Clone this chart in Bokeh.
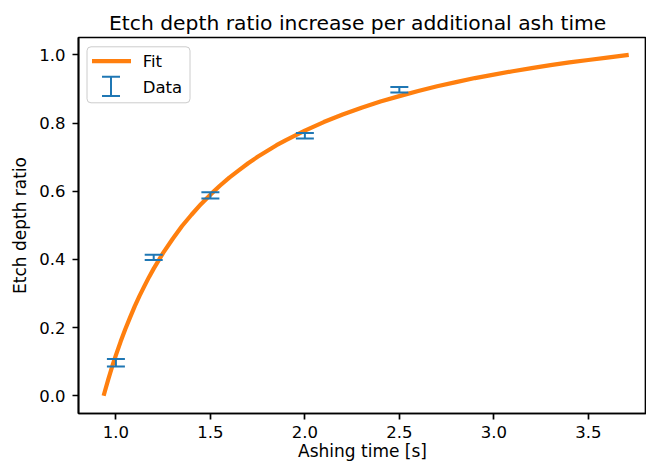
from bokeh.plotting import figure
from bokeh.models import (Range1d, FixedTicker, Whisker, TeeHead, ColumnDataSource,
                          BoxAnnotation, Arrow, Label, CustomJSTickFormatter)
from bokeh.embed import file_html
from bokeh.resources import INLINE

# ---- data ----
fit_x = [0.935, 0.945, 0.96, 0.97, 0.985, 1.0, 1.025, 1.05, 1.075, 1.1, 1.125, 1.15,
         1.175, 1.2, 1.25, 1.3, 1.35, 1.4, 1.45, 1.5, 1.55, 1.6, 1.65, 1.7, 1.75, 1.8,
         1.85, 1.9, 2.0, 2.1, 2.2, 2.3, 2.4, 2.5, 2.6, 2.7, 2.8, 2.9, 3.0, 3.1, 3.2,
         3.3, 3.4, 3.5, 3.6, 3.714]
fit_y = [0.0, 0.020, 0.049, 0.067, 0.094, 0.119, 0.159, 0.196, 0.230, 0.263, 0.293,
         0.321, 0.348, 0.373, 0.419, 0.460, 0.498, 0.531, 0.562, 0.590, 0.616, 0.640,
         0.661, 0.682, 0.701, 0.718, 0.735, 0.750, 0.778, 0.803, 0.825, 0.845, 0.863,
         0.879, 0.894, 0.908, 0.920, 0.932, 0.942, 0.952, 0.961, 0.970, 0.978, 0.985,
         0.992, 1.000]

data_x = [1.0, 1.2, 1.5, 2.0, 2.5]
data_y = [0.097, 0.406, 0.588, 0.763, 0.898]
data_err = [0.011, 0.008, 0.009, 0.008, 0.008]

x_ticks = [1.0, 1.5, 2.0, 2.5, 3.0, 3.5]
y_ticks = [0.0, 0.2, 0.4, 0.6, 0.8, 1.0]

title = "Etch depth ratio increase per additional ash time"
x_label = "Ashing time [s]"
y_label = "Etch depth ratio"
series_names = ["Fit", "Data"]

ORANGE = "#ff7f0e"
BLUE = "#1f77b4"
FONT = "DejaVu Sans"
TICK_FS = "16.5px"
LABEL_FS = "17px"

p = figure(width=646, height=465, output_backend="svg", toolbar_location=None,
           x_range=Range1d(0.802, 3.808), y_range=Range1d(-0.052, 1.051),
           min_border_left=78, min_border_right=0, min_border_top=37, min_border_bottom=52,
           background_fill_color="white", border_fill_color="white")

p.title.text = title
p.title.align = "left"
p.title.offset = 30.5
p.title.text_font = FONT
p.title.text_font_size = "20.3px"
p.title.text_font_style = "normal"
p.title.text_color = "black"
p.title.standoff = 6

p.xgrid.visible = False
p.ygrid.visible = False
p.outline_line_color = "black"
p.outline_line_width = 1.7

for ax, ticks, lab in ((p.xaxis[0], x_ticks, x_label), (p.yaxis[0], y_ticks, y_label)):
    ax.ticker = FixedTicker(ticks=ticks)
    ax.formatter = CustomJSTickFormatter(code="return tick.toFixed(1);")
    ax.axis_label = lab
    ax.axis_label_text_font = FONT
    ax.axis_label_text_font_size = LABEL_FS
    ax.axis_label_text_font_style = "normal"
    ax.axis_label_text_color = "black"
    ax.major_label_text_font = FONT
    ax.major_label_text_font_size = TICK_FS
    ax.major_label_text_color = "black"
    ax.axis_line_color = "black"
    ax.axis_line_width = 1.7
    ax.major_tick_line_color = "black"
    ax.major_tick_line_width = 1.7
    ax.major_tick_out = 6
    ax.major_tick_in = 0
    ax.minor_tick_line_color = None

p.xaxis.major_label_standoff = 6
p.xaxis.axis_label_standoff = 0
p.yaxis.major_label_standoff = 7
p.yaxis.axis_label_standoff = 6

# Fit curve
p.line(fit_x, fit_y, line_color=ORANGE, line_width=4.2, line_join="round", line_cap="butt")

# Data error bars
src = ColumnDataSource(dict(
    x=data_x,
    upper=[y + e for y, e in zip(data_y, data_err)],
    lower=[y - e for y, e in zip(data_y, data_err)],
))
p.add_layout(Whisker(source=src, base="x", upper="upper", lower="lower",
                     dimension="height", line_color=BLUE, line_width=2,
                     upper_head=TeeHead(size=18, line_color=BLUE, line_width=2),
                     lower_head=TeeHead(size=18, line_color=BLUE, line_width=2),
                     level="glyph"))

# Legend (matplotlib style), positioned in screen units relative to the frame
p.add_layout(BoxAnnotation(left=8.5, right=111.5, top=366.7, bottom=310.7,
                           left_units="screen", right_units="screen",
                           top_units="screen", bottom_units="screen",
                           fill_color="white", fill_alpha=0.8,
                           line_color="#cccccc", line_alpha=1.0, line_width=1,
                           border_radius=4, level="overlay"))
p.add_layout(Arrow(x_start=13.5, y_start=352.4, x_end=52.5, y_end=352.4,
                   start_units="screen", end_units="screen", start=None, end=None,
                   line_color=ORANGE, line_width=4.2, level="overlay"))
leg_src = ColumnDataSource(dict(base=[32.5], upper=[336.7], lower=[317.4]))
p.add_layout(Whisker(source=leg_src, base="base", upper="upper", lower="lower",
                     dimension="height", base_units="screen", upper_units="screen",
                     lower_units="screen", line_color=BLUE, line_width=2,
                     upper_head=TeeHead(size=18, line_color=BLUE, line_width=2),
                     lower_head=TeeHead(size=18, line_color=BLUE, line_width=2),
                     level="overlay"))
for txt, yy in zip(series_names, [352.4, 326.0]):
    p.add_layout(Label(x=64.2, y=yy, x_units="screen", y_units="screen", text=txt,
                       text_baseline="middle", text_align="left", text_font=FONT,
                       text_font_size=TICK_FS, text_color="black", level="overlay"))

open("out.html", "w").write(file_html(p, INLINE))
